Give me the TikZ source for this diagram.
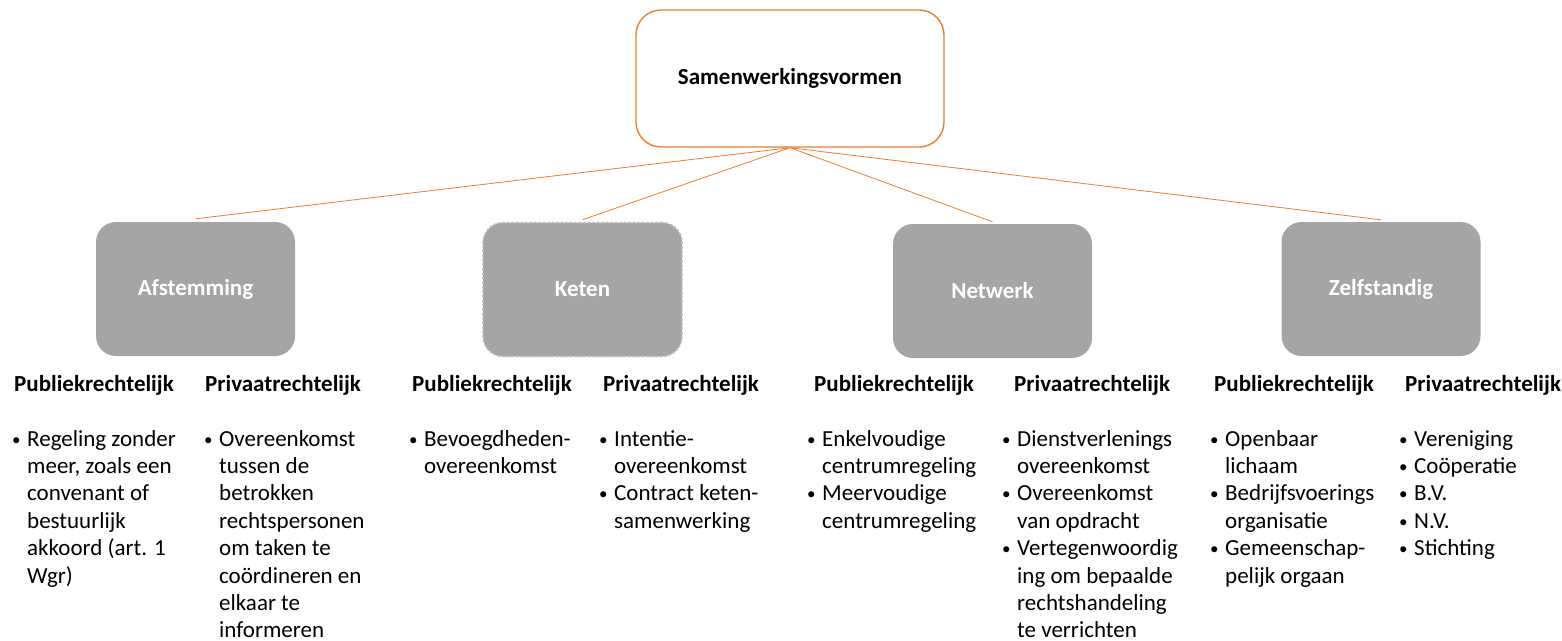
\documentclass[tikz,border=0pt]{standalone}
\usepackage{fontspec}
\setmainfont{Carlito}
\usetikzlibrary{positioning}
\definecolor{orng}{HTML}{ED7D31}
\definecolor{grijs}{HTML}{A5A5A5}
\definecolor{randgrijs}{HTML}{BFBFBF}
\newcommand{\bul}{\strut\makebox[15pt][l]{\fontsize{17}{17}\selectfont\raisebox{1pt}{\textbullet}}}
\newcommand{\ins}{\hspace*{15pt}}

\begin{document}
\begin{tikzpicture}[x=1pt,y=-1pt,
	font=\fontsize{23}{27.4}\selectfont,
	hoofd/.style={draw=orng,line width=1.4pt,fill=white,rounded corners=25pt,
		minimum width=308pt,minimum height=137pt,font=\fontsize{23}{27.4}\selectfont\bfseries},
	vorm/.style={fill=grijs,rounded corners=20pt,minimum width=199pt,minimum height=134pt,
		text=white,font=\fontsize{23}{27.4}\selectfont\bfseries},
	kop/.style={anchor=base west,inner sep=0pt,font=\fontsize{23}{27.4}\selectfont\bfseries},
	lijst/.style={anchor=north west,inner sep=0pt,align=left},
	tak/.style={draw=orng,line width=0.8pt}]
	\useasboundingbox (0,0) rectangle (1562,640);
	% bovenste vak
	\node[hoofd] (samen) at (790,78.5) {Samenwerkingsvormen};
	% vier vormen
	\node[vorm] (afst) at (195.5,289) {Afstemming};
	\node[vorm,draw=randgrijs,line width=1.6pt,dash pattern=on 2pt off 2.5pt] (keten) at (582.5,289.5) {Keten};
	\node[vorm] (netw) at (992.5,291) {Netwerk};
	\node[vorm] (zelf) at (1381,289) {Zelfstandig};
	% takken
	\draw[tak]
		(samen.south) -- ([yshift=3pt]afst.north)
		(samen.south) -- ([yshift=2pt]keten.north)
		(samen.south) -- ([yshift=2pt]netw.north)
		(samen.south) -- ([yshift=2pt]zelf.north);
	% koppen
	\node[kop] (afst-pub) at (14,391) {Publiekrechtelijk};
	\node[kop] (afst-priv) at (205,391) {Privaatrechtelijk};
	\node[kop] (keten-pub) at (412,391) {Publiekrechtelijk};
	\node[kop] (keten-priv) at (603,391) {Privaatrechtelijk};
	\node[kop] (netw-pub) at (814,391) {Publiekrechtelijk};
	\node[kop] (netw-priv) at (1014,391) {Privaatrechtelijk};
	\node[kop] (zelf-pub) at (1214,391) {Publiekrechtelijk};
	\node[kop] (zelf-priv) at (1405,391) {Privaatrechtelijk};
	% lijsten
	\node[lijst] (afst-publijst) at (12,426.8) {\bul Regeling zonder\\ \ins meer, zoals een\\ \ins convenant of\\
		\ins bestuurlijk\\ \ins akkoord (art. 1\\ \ins Wgr)};
	\node[lijst] (afst-privlijst) at (204,426.8) {\bul Overeenkomst\\ \ins tussen de\\ \ins betrokken\\
		\ins rechtspersonen\\ \ins om taken te\\ \ins coördineren en\\ \ins elkaar te\\ \ins informeren};
	\node[lijst] (keten-publijst) at (409,426.8) {\bul Bevoegdheden-\\ \ins overeenkomst};
	\node[lijst] (keten-privlijst) at (599,426.8) {\bul Intentie-\\ \ins overeenkomst\\
		\bul Contract keten-\\ \ins samenwerking};
	\node[lijst] (netw-publijst) at (807,426.8) {\bul Enkelvoudige\\ \ins centrumregeling\\
		\bul Meervoudige\\ \ins centrumregeling};
	\node[lijst] (netw-privlijst) at (1002,426.8) {\bul Dienstverlenings\\ \ins overeenkomst\\
		\bul Overeenkomst\\ \ins van opdracht\\ \bul Vertegenwoordig\\ \ins ing om bepaalde\\
		\ins rechtshandeling\\ \ins te verrichten};
	\node[lijst] (zelf-publijst) at (1210,426.8) {\bul Openbaar\\ \ins lichaam\\
		\bul Bedrijfsvoerings\\ \ins organisatie\\ \bul Gemeenschap-\\ \ins pelijk orgaan};
	\node[lijst] (zelf-privlijst) at (1399,426.8) {\bul Vereniging\\ \bul Coöperatie\\ \bul B.V.\\
		\bul N.V.\\ \bul Stichting};
\end{tikzpicture}
\end{document}
